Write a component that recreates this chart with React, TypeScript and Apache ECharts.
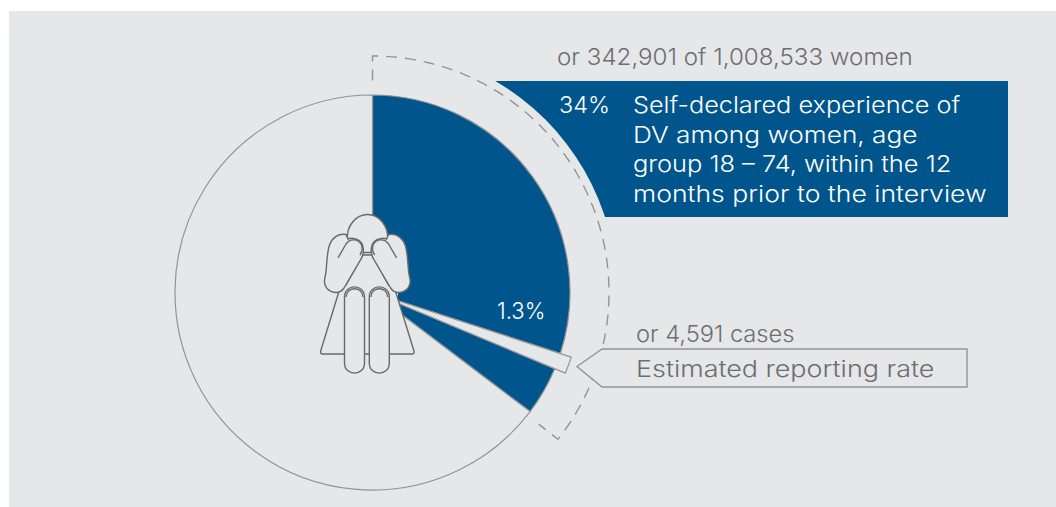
import React, { useEffect, useRef } from "react";
import * as echarts from "echarts";

// Share of the circle, in percent, going clockwise from twelve o'clock.
const sliceNames = ["Unreported, upper", "Reported", "Unreported, lower", "Other women"];
const sliceValues = [30, 1.3, 4, 64.7];
const FONT = "Inter";
const headlineText = "or 342,901 of 1,008,533 women";
const shareText = "34%";
const noteLines = [
  "Self-declared experience of",
  "DV among women, age",
  "group 18 – 74, within the 12",
  "months prior to the interview",
];
const noteStretch = [1.1, 1.14, 1.105, 1.155];
const rateText = "1.3%";
const casesText = "or 4,591 cases";
const calloutText = "Estimated reporting rate";

const PANEL = "#e6e7e9";
const BLUE = "#00568c";
const LINE = "#939496";
const INK = "#6d6e71";
const FIGURE = "#68696b";
const CX = 372.5;
const CY = 292.5;

echarts.graphic.registerShape(
  "figureSkirt",
  echarts.graphic.extendPath(
    "M363,255 L372,255 L388.5,285 L394.5,288 L414,351 C414.5,353 413.5,354 412,354 L322.6,354 C321,354 320.2,353 320.7,351 L340,288 L346,285 Z",
    {}
  )
);
echarts.graphic.registerShape(
  "figureHead",
  echarts.graphic.extendPath(
    "M347.5,240 C346,226 356,214.5 367.5,214.5 C379,214.5 389,226 387.5,240 L387,252.5 L348,252.5 Z",
    {}
  )
);
echarts.graphic.registerShape(
  "figureArm",
  echarts.graphic.extendPath(
    "M346,234.5 C338,233 332,238 329.5,245 C327,252 327,262 326,272 L324.5,280 C324,288 330,292.5 336,292.5 C340,292.5 342,291 344,288 L361,259 C365,252 364,243 358,240 C354,238 350,238 348,239 Z",
    {}
  )
);
echarts.graphic.registerShape(
  "figureHand",
  echarts.graphic.extendPath("M338,258 L346,244 C350,238 358,239 361,244 C363,248 362,252 360,255", {})
);
echarts.graphic.registerShape(
  "figureLeg",
  echarts.graphic.extendPath(
    "M344.5,297 C344.5,283.5 364.5,283.5 364.5,297 L364.5,363 C364.5,376.5 344.5,376.5 344.5,363 Z",
    {}
  )
);
echarts.graphic.registerShape(
  "figureKnee",
  echarts.graphic.extendPath("M346.2,297 C346.2,286 362.8,286 362.8,297", {})
);

function bracketPoints(endDeg: number, outer: number, inner: number) {
  const at = (deg: number, r: number) => {
    const a = (deg * Math.PI) / 180;
    return [CX + r * Math.sin(a), CY - r * Math.cos(a)];
  };
  const pts = [at(0, inner)];
  for (let d = 0; d <= endDeg; d += 1) pts.push(at(d, outer));
  pts.push(at(endDeg, outer), at(endDeg, inner));
  return pts;
}

// Text is set a little wider than the face's natural width.
function label(text: string, x: number, y: number, stretch: number, fill: string) {
  return {
    type: "text",
    z: 10,
    x,
    y,
    scaleX: stretch,
    style: { text, fontFamily: FONT, fontWeight: 300, fontSize: 23, fill, textVerticalAlign: "middle" },
  };
}

export default function App() {
  const ref = useRef<HTMLDivElement>(null);

  useEffect(() => {
    document.body.style.margin = "0";
    const chart = echarts.init(ref.current!, null, { renderer: "svg" });
    const before = sliceValues[0];
    const reported = sliceValues[1];
    const bracketEnd = ((sliceValues[0] + sliceValues[1] + sliceValues[2]) * 360) / 100 + 1.3;

    chart.setOption({
      animation: false,
      backgroundColor: "#ffffff",
      series: [
        {
          type: "pie",
          silent: true,
          center: [CX, CY],
          radius: [0, 197.5],
          startAngle: 90,
          label: { show: false },
          labelLine: { show: false },
          itemStyle: { borderColor: LINE, borderWidth: 1.2 },
          data: sliceValues.map((value, i) => ({
            name: sliceNames[i],
            value,
            itemStyle: { color: i === 0 || i === 2 ? BLUE : PANEL },
          })),
        },
        {
          // The reported share is pulled out past the rim of the circle.
          type: "pie",
          silent: true,
          center: [CX, CY],
          radius: [0, 209],
          startAngle: 90,
          label: { show: false },
          labelLine: { show: false },
          data: [
            { name: "gap", value: before, itemStyle: { color: "transparent", borderWidth: 0 } },
            { name: sliceNames[1], value: reported, itemStyle: { color: PANEL, borderColor: LINE, borderWidth: 1.2 } },
            { name: "rest", value: 100 - before - reported, itemStyle: { color: "transparent", borderWidth: 0 } },
          ],
        },
      ],
      graphic: [
        { type: "rect", z: 0, shape: { x: 9, y: 11, width: 1047, height: 496 }, style: { fill: PANEL } },
        { type: "rect", z: 0, shape: { x: 480, y: 81, width: 528, height: 136 }, style: { fill: BLUE } },
        { type: "circle", z: 1, shape: { cx: CX, cy: CY, r: 244.5 }, style: { fill: PANEL } },
        {
          type: "polyline",
          z: 3,
          shape: { points: bracketPoints(bracketEnd, 236.5, 212) },
          style: { fill: "none", stroke: LINE, lineWidth: 1.4, lineDash: [11, 8] },
        },
        {
          type: "polygon",
          z: 4,
          shape: { points: [[577, 366.5], [602, 349], [967, 349], [967, 387], [602, 387]] },
          style: { fill: PANEL, stroke: LINE, lineWidth: 1.4 },
        },
        // Solid backing so no blue shows between the figure's outlines.
        {
          type: "polygon",
          z: 5,
          shape: { points: [[355, 235], [385, 235], [398, 290], [398, 340], [335, 340], [335, 290]] },
          style: { fill: PANEL },
        },
        ...[
          { type: "figureSkirt" },
          { type: "figureHead" },
          { type: "figureArm" },
          { type: "figureArm", x: 734.6, scaleX: -1 },
          { type: "figureLeg" },
          { type: "figureLeg", x: 24.8 },
        ].map((part) => ({
          ...part,
          z: 5,
          style: { fill: PANEL, stroke: FIGURE, lineWidth: 1.4 },
        })),
        ...[
          { type: "figureHand" },
          { type: "figureHand", x: 734.6, scaleX: -1 },
          { type: "figureKnee" },
          { type: "figureKnee", x: 24.8 },
        ].map((part) => ({
          ...part,
          z: 5,
          style: { fill: "none", stroke: FIGURE, lineWidth: 1.4 },
        })),
        label(headlineText, 557, 57, 1.05, INK),
        label(shareText, 559, 105, 1.02, "#ffffff"),
        ...noteLines.map((line, i) => label(line, 633, 105 + i * 29.5, noteStretch[i], "#ffffff")),
        label(rateText, 497, 310.5, 0.96, "#ffffff"),
        label(casesText, 636, 333.5, 1.03, INK),
        label(calloutText, 636, 369, 1.17, INK),
      ],
    });
    return () => chart.dispose();
  }, []);

  return <div ref={ref} style={{ width: 1056, height: 507 }} />;
}
